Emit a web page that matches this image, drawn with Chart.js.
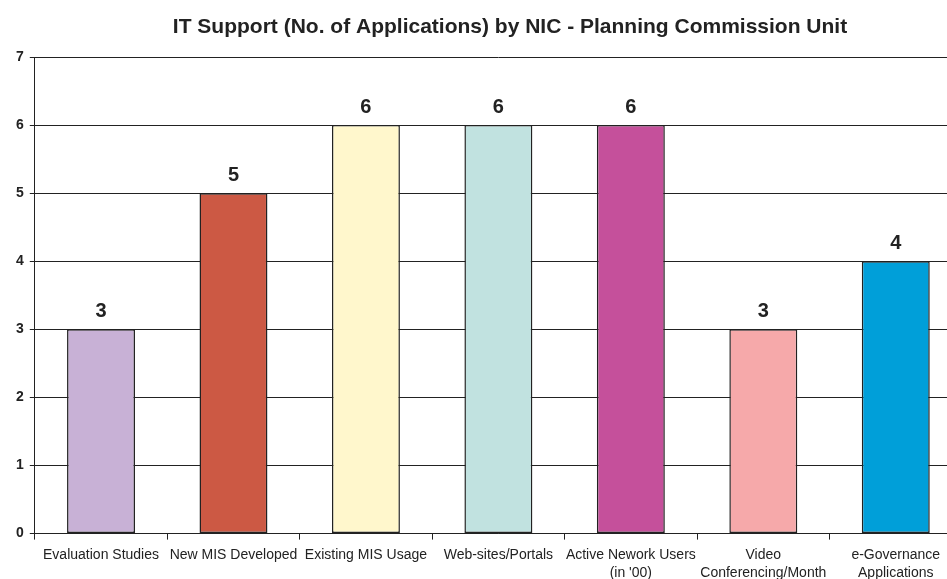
<!DOCTYPE html>
<html>
<head>
<meta charset="utf-8">
<script src="https://cdn.jsdelivr.net/npm/chart.js@4/dist/chart.umd.min.js"></script>
<style>
  html, body { margin: 0; padding: 0; background: #fff; overflow: hidden; }
  /* the original plot runs past the right and bottom edges of the picture */
  #wrap { position: relative; width: 962px; height: 588px; }
</style>
</head>
<body>
<div id="wrap"><canvas id="chart"></canvas></div>
<script>
// IT support by NIC - Planning Commission Unit

const TITLE = 'IT Support (No. of Applications) by NIC - Planning Commission Unit';
const categories = [
  'Evaluation Studies',
  'New MIS Developed',
  'Existing MIS Usage',
  'Web-sites/Portals',
  ['Active Nework Users', "(in '00)"],
  ['Video', 'Conferencing/Month'],
  ['e-Governance', 'Applications']
];
const values = [3, 5, 6, 6, 6, 3, 4];
const barColors = ['#c8b1d6', '#cc5944', '#fff7cc', '#c1e2e0', '#c5509b', '#f6a9aa', '#009fd9'];
const yTicks = [0, 1, 2, 3, 4, 5, 6, 7];

const FONT = "'Liberation Sans', Arial, sans-serif";
const INK = '#222';

// value above each bar, placed from the bar elements
const valueLabels = {
  id: 'valueLabels',
  afterDatasetsDraw(chart) {
    const ctx = chart.ctx;
    const meta = chart.getDatasetMeta(0);
    ctx.save();
    ctx.font = 'bold 20px ' + FONT;
    ctx.fillStyle = INK;
    ctx.textAlign = 'center';
    ctx.textBaseline = 'alphabetic';
    meta.data.forEach((bar, i) => {
      ctx.fillText(String(values[i]), bar.x, bar.y - 12);
    });
    ctx.restore();
  }
};

// title sits right of the canvas centre in the original
const titlePlugin = {
  id: 'offsetTitle',
  afterDraw(chart) {
    const ctx = chart.ctx;
    ctx.save();
    ctx.font = 'bold 21px ' + FONT;
    ctx.fillStyle = INK;
    ctx.textAlign = 'center';
    ctx.textBaseline = 'alphabetic';
    ctx.fillText(TITLE, 510, 33);
    ctx.restore();
  }
};

new Chart(document.getElementById('chart'), {
  type: 'bar',
  data: {
    labels: categories,
    datasets: [{
      data: values,
      backgroundColor: barColors,
      borderColor: INK,
      borderWidth: 1.5,
      borderSkipped: false,
      categoryPercentage: 1,
      barPercentage: 0.513
    }]
  },
  options: {
    responsive: true,
    maintainAspectRatio: false,
    animation: false,
    layout: { padding: { top: 57, left: 10, right: 0, bottom: 0 } },
    plugins: {
      legend: { display: false },
      title: { display: false },
      tooltip: { enabled: false }
    },
    scales: {
      y: {
        min: 0, max: 7,
        afterBuildTicks: (axis) => { axis.ticks = yTicks.map(v => ({ value: v })); },
        grid: { color: INK, lineWidth: 1, tickLength: 5, drawTicks: true },
        border: { color: INK, width: 1 },
        ticks: { color: INK, font: { family: FONT, size: 14, weight: 'bold' }, padding: 6 }
      },
      x: {
        grid: { display: true, drawOnChartArea: false, color: INK, tickLength: 6, offset: true },
        border: { color: INK, width: 1 },
        ticks: {
          color: INK, autoSkip: false, maxRotation: 0, minRotation: 0, padding: 6,
          font: { family: FONT, size: 14, lineHeight: 1.3 }
        }
      }
    }
  },
  plugins: [valueLabels, titlePlugin]
});
</script>
</body>
</html>
